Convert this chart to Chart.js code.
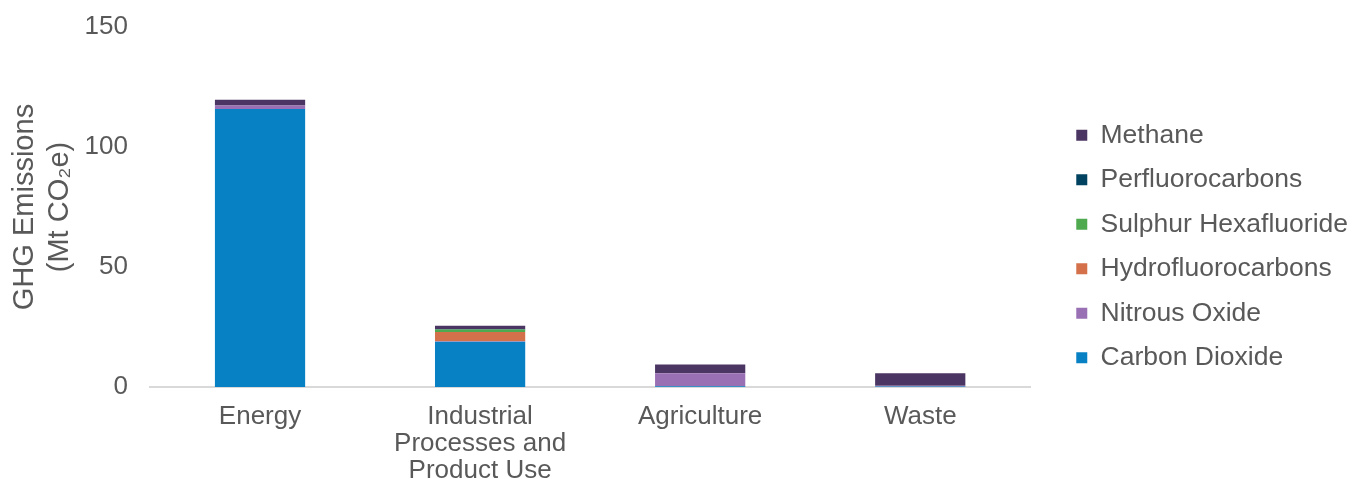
<!DOCTYPE html>
<html>
<head>
<meta charset="utf-8">
<script src="https://cdn.jsdelivr.net/npm/chart.js@4.4.1/dist/chart.umd.min.js"></script>
<style>
  html, body { margin: 0; padding: 0; background: #ffffff; }
  #wrap { width: 1366px; height: 479px; position: relative; }
</style>
</head>
<body>
<div id="wrap"><canvas id="c"></canvas></div>
<script>
// Sectors along the x axis
const categories = [
  'Energy',
  ['Industrial', 'Processes and', 'Product Use'],
  'Agriculture',
  'Waste'
];

// Emissions by gas, Mt CO2e, stacked bottom to top
const carbonDioxide       = [115.8, 18.9, 0.3, 0.2];
const nitrousOxide        = [1.5, 0.2, 5.4, 0.3];
const hydrofluorocarbons  = [0, 3.8, 0, 0];
const sulphurHexafluoride = [0, 1.1, 0, 0];
const perfluorocarbons    = [0, 0.2, 0, 0];
const methane             = [2.4, 1.3, 3.7, 5.2];

const yTicks = [0, 50, 100, 150];

const gasSeries = [
  { label: 'Carbon Dioxide',       data: carbonDioxide,       color: '#0780c4' },
  { label: 'Nitrous Oxide',        data: nitrousOxide,        color: '#9a70b4' },
  { label: 'Hydrofluorocarbons',   data: hydrofluorocarbons,  color: '#d4714a' },
  { label: 'Sulphur Hexafluoride', data: sulphurHexafluoride, color: '#4ea94f' },
  { label: 'Perfluorocarbons',     data: perfluorocarbons,    color: '#00425f' },
  { label: 'Methane',              data: methane,             color: '#4b3562' }
];

const FONT = "'Liberation Sans', Arial, sans-serif";
const TEXT = '#595959';

// Leaves an empty gutter between the plot area and the legend entries.
const LEGEND_GUTTER = 28;
const legendGutter = {
  id: 'legendGutter',
  afterInit(chart) {
    const lg = chart.legend;
    if (!lg) return;
    const fit = lg.fit;
    lg.fit = function () { fit.call(this); this.width += LEGEND_GUTTER; };
    const draw = lg.draw;
    lg.draw = function () {
      this.left += LEGEND_GUTTER;
      draw.call(this);
      this.left -= LEGEND_GUTTER;
    };
  }
};

new Chart(document.getElementById('c'), {
  type: 'bar',
  data: {
    labels: categories,
    datasets: gasSeries.map(s => ({
      label: s.label,
      data: s.data,
      backgroundColor: s.color,
      borderWidth: 0,
      barPercentage: 0.41,
      categoryPercentage: 1.0
    }))
  },
  plugins: [legendGutter],
  options: {
    responsive: true,
    maintainAspectRatio: false,
    animation: false,
    layout: { padding: { top: 14, right: 8, bottom: 0, left: 0 } },
    plugins: {
      tooltip: { enabled: false },
      legend: {
        position: 'right',
        reverse: true,
        labels: {
          boxWidth: 11,
          boxHeight: 11,
          padding: 18,
          color: TEXT,
          font: { family: FONT, size: 26.5 }
        }
      }
    },
    scales: {
      x: {
        stacked: true,
        grid: { display: false, drawTicks: false },
        border: { display: true, color: '#d9d9d9', width: 2 },
        ticks: {
          color: TEXT,
          padding: 16,
          maxRotation: 0,
          autoSkip: false,
          font: { family: FONT, size: 26, lineHeight: 1.04 }
        },
        afterFit: (scale) => { scale.height = 92; }
      },
      y: {
        stacked: true,
        min: 0,
        max: 150,
        afterBuildTicks: (scale) => { scale.ticks = yTicks.map(v => ({ value: v })); },
        grid: { display: false, drawTicks: false },
        border: { display: false },
        ticks: {
          color: TEXT,
          padding: 22,
          font: { family: FONT, size: 26 }
        },
        title: {
          display: true,
          text: ['GHG Emissions', '(Mt CO\u2082e)'],
          color: TEXT,
          padding: { top: 8, bottom: 0 },
          font: { family: FONT, size: 29, lineHeight: 1.2 }
        },
        afterFit: (scale) => {
          scale.width = 150;
          scale.paddingTop = 27;
          scale.paddingBottom = 13;
        }
      }
    }
  }
});
</script>
</body>
</html>
